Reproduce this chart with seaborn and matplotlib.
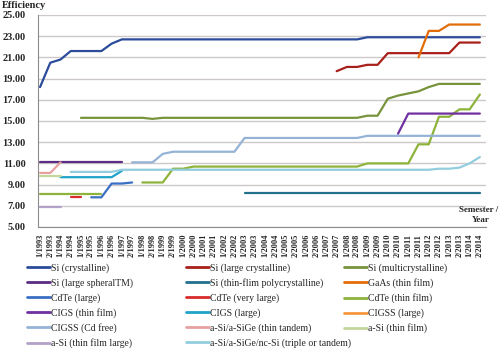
import numpy as np
import pandas as pd
import matplotlib
matplotlib.use('Agg')
from matplotlib import pyplot as plt
from matplotlib.lines import Line2D
import seaborn as sns

semesters = ['1/1993', '2/1993', '1/1994', '2/1994', '1/1995', '2/1995', '1/1996', '2/1996',
             '1/1997', '2/1997', '1/1998', '2/1998', '1/1999', '2/1999', '1/2000', '2/2000',
             '1/2001', '2/2001', '1/2002', '2/2002', '1/2003', '2/2003', '1/2004', '2/2004',
             '1/2005', '2/2005', '1/2006', '2/2006', '1/2007', '2/2007', '1/2008', '2/2008',
             '1/2009', '2/2009', '1/2010', '2/2010', '1/2011', '2/2011', '1/2012', '2/2012',
             '1/2013', '2/2013', '1/2014', '2/2014']

# each series: first semester index, then efficiency values (None = no data)
si_crystalline_start = 0
si_crystalline = [18.2, 20.5, 20.8, 21.6, 21.6, 21.6, 21.6, 22.3, 22.7, 22.7, 22.7, 22.7,
                  22.7, 22.7, 22.7, 22.7, 22.7, 22.7, 22.7, 22.7, 22.7, 22.7, 22.7, 22.7,
                  22.7, 22.7, 22.7, 22.7, 22.7, 22.7, 22.7, 22.7, 22.9, 22.9, 22.9, 22.9,
                  22.9, 22.9, 22.9, 22.9, 22.9, 22.9, 22.9, 22.9]
si_large_cryst_start = 29
si_large_cryst = [19.7, 20.1, 20.1, 20.3, 20.3, 21.4, 21.4, 21.4, 21.4, 21.4, 21.4, 21.4,
                  22.4, 22.4, 22.4]
si_multi_start = 4
si_multi = [15.3, 15.3, 15.3, 15.3, 15.3, 15.3, 15.3, 15.2, 15.3, 15.3, 15.3, 15.3, 15.3,
            15.3, 15.3, 15.3, 15.3, 15.3, 15.3, 15.3, 15.3, 15.3, 15.3, 15.3, 15.3, 15.3,
            15.3, 15.3, 15.5, 15.5, 17.1, 17.4, 17.6, 17.8, 18.2, 18.5, 18.5, 18.5, 18.5, 18.5]
si_spheral_start = 0
si_spheral = [11.1, 11.1, 11.1, 11.1, 11.1, 11.1, 11.1, 11.1, 11.1]
si_thin_poly_start = 20
si_thin_poly = [8.2, 8.2, 8.2, 8.2, 8.2, 8.2, 8.2, 8.2, 8.2, 8.2, 8.2, 8.2,
                8.2, 8.2, 8.2, 8.2, 8.2, 8.2, 8.2, 8.2, 8.2, 8.2, 8.2, 8.2]
gaas_thin_start = 37
gaas_thin = [21.0, 23.5, 23.5, 24.1, 24.1, 24.1, 24.1]
cdte_large_start = 5
cdte_large = [7.8, 7.8, 9.1, 9.1, 9.2]
cdte_vlarge_start = 3
cdte_vlarge = [7.8, 7.8]
cdte_thin_start = 0
cdte_thin = [8.1, 8.1, 8.1, 8.1, 8.1, 8.1, 8.1, None, None, None, 9.2, 9.2, 9.2, 10.5, 10.5,
             10.7, 10.7, 10.7, 10.7, 10.7, 10.7, 10.7, 10.7, 10.7, 10.7, 10.7, 10.7, 10.7,
             10.7, 10.7, 10.7, 10.7, 11.0, 11.0, 11.0, 11.0, 11.0, 12.8, 12.8, 15.4, 15.4,
             16.1, 16.1, 17.5]
cigs_thin_start = 35
cigs_thin = [13.8, 15.7, 15.7, 15.7, 15.7, 15.7, 15.7, 15.7, 15.7]
cigs_large_start = 2
cigs_large = [9.7, 9.7, 9.7, 9.7, 9.7, 9.7, 10.3]
cigss_large_start = 0
cigss_large = []
cigss_cdfree_start = 9
cigss_cdfree = [11.1, 11.1, 11.1, 11.9, 12.1, 12.1, 12.1, 12.1, 12.1, 12.1, 12.1, 13.4,
                13.4, 13.4, 13.4, 13.4, 13.4, 13.4, 13.4, 13.4, 13.4, 13.4, 13.4, 13.6,
                13.6, 13.6, 13.6, 13.6, 13.6, 13.6, 13.6, 13.6, 13.6, 13.6, 13.6]
asi_tandem_start = 0
asi_tandem = [10.1, 10.1, 11.1]
asi_thin_start = 0
asi_thin = [9.8, 9.8, 9.8]
asi_thin_large_start = 0
asi_thin_large = [6.9, 6.9, 6.9]
asi_triple_start = 3
asi_triple = [10.2, 10.2, 10.2, 10.2, 10.2, 10.4, 10.4, 10.4, 10.4, 10.4, 10.4, 10.4, 10.4,
              10.4, 10.4, 10.4, 10.4, 10.4, 10.4, 10.4, 10.4, 10.4, 10.4, 10.4, 10.4, 10.4,
              10.4, 10.4, 10.4, 10.4, 10.4, 10.4, 10.4, 10.4, 10.4, 10.4, 10.5, 10.5, 10.6,
              11.0, 11.6]

series = [
    ('Si (crystalline)', '#2B4C9B', si_crystalline_start, si_crystalline),
    ('Si (large crystalline)', '#A8201A', si_large_cryst_start, si_large_cryst),
    ('Si (multicrystalline)', '#77933C', si_multi_start, si_multi),
    ('Si (large spheralTM)', '#5B2C83', si_spheral_start, si_spheral),
    ('Si (thin-flim polycrystalline)', '#23708E', si_thin_poly_start, si_thin_poly),
    ('GaAs (thin film)', '#E36C09', gaas_thin_start, gaas_thin),
    ('CdTe (large)', '#3A6FC4', cdte_large_start, cdte_large),
    ('CdTe (very large)', '#D92B2B', cdte_vlarge_start, cdte_vlarge),
    ('CdTe (thin film)', '#8DB33A', cdte_thin_start, cdte_thin),
    ('CIGS (thin film)', '#7030A0', cigs_thin_start, cigs_thin),
    ('CIGS (large)', '#1FA3C9', cigs_large_start, cigs_large),
    ('CIGSS (large)', '#F7963D', cigss_large_start, cigss_large),
    ('CIGSS (Cd free)', '#95B3D7', cigss_cdfree_start, cigss_cdfree),
    ('a-Si/a-SiGe (thin tandem)', '#E6A0A0', asi_tandem_start, asi_tandem),
    ('a-Si (thin film)', '#C3D69B', asi_thin_start, asi_thin),
    ('a-Si (thin film large)', '#B3A2C7', asi_thin_large_start, asi_thin_large),
    ('a-Si/a-SiGe/nc-Si (triple or tandem)', '#93CDDD', asi_triple_start, asi_triple),
]

sns.set_style('white')
plt.rcParams['font.family'] = ['Liberation Serif', 'DejaVu Serif']

fig = plt.figure(figsize=(5.0, 3.59), dpi=100)
ax = fig.add_axes([38 / 500, 1 - 227 / 359, 448 / 500, 212 / 359])

for name, color, start, vals in series:
    if len(vals) == 0:
        continue
    df = pd.DataFrame({'x': np.arange(start, start + len(vals)),
                       'y': pd.array(vals, dtype='Float64')})
    df['seg'] = df['y'].isna().cumsum()
    df = df.dropna()
    df['y'] = df['y'].astype(float)
    for _, seg in df.groupby('seg'):
        sns.lineplot(data=seg, x='x', y='y', color=color, linewidth=1.6, ax=ax,
                     legend=False, estimator=None)

ax.set_xlim(-0.2, 43.6)
ax.set_ylim(5, 25)
ax.set_yticks(np.arange(5, 26, 2))
ax.set_yticklabels([f'{v:.2f}' for v in np.arange(5, 26, 2)], fontsize=7.5, fontweight='bold')
ax.set_xticks(range(len(semesters)))
ax.set_xticklabels(semesters, rotation=90, fontsize=6.0, fontweight='bold')
ax.set_xlabel('')
ax.set_ylabel('')
ax.grid(axis='y', color='#CFC8CB', linewidth=1.0)
ax.grid(axis='x', visible=False)
ax.set_axisbelow(True)
for s in ['top', 'right']:
    ax.spines[s].set_visible(False)
for s in ['left', 'bottom']:
    ax.spines[s].set_color('#8C8C8C')
    ax.spines[s].set_linewidth(0.8)
ax.tick_params(axis='both', length=3, width=0.7, color='#8C8C8C', pad=2, direction='out')
ax.tick_params(axis='y', pad=6)

fig.text(2 / 500, 1 - 5 / 359, 'Efficiency', fontsize=7.5, fontweight='bold',
         ha='left', va='center')
fig.text(498 / 500, 1 - 210 / 359, 'Semester /', fontsize=6.5, fontweight='bold',
         ha='right', va='center')
fig.text(481 / 500, 1 - 220 / 359, 'Year', fontsize=6.5, fontweight='bold',
         ha='center', va='center')

handles = [Line2D([], [], color=c, linewidth=2) for _, c, _, _ in series]
labels = [n for n, _, _, _ in series]
col_x = [27 / 500, 186 / 500, 344 / 500]
for k in range(3):
    fig.legend(handles[k::3], labels[k::3], loc='upper left',
               bbox_to_anchor=(col_x[k], 1 - 263 / 359), frameon=False,
               fontsize=7.0, handlelength=2.4, handletextpad=0.1,
               labelspacing=0.55, borderpad=0, borderaxespad=0)

fig.savefig('out.png', dpi=100)
